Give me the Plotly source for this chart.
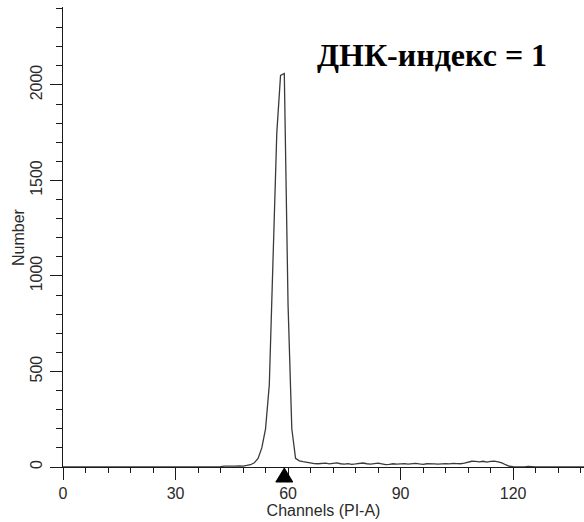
import plotly.graph_objects as go

channels = list(range(0, 140))
counts = [
    0, 0, 0, 0, 0, 0, 0, 0, 0, 0,              # 0-9
    0, 0, 0, 0, 0, 0, 0, 0, 0, 0,              # 10-19
    0, 0, 0, 0, 0, 0, 0, 0, 0, 0,              # 20-29
    0, 0, 0, 0, 0, 0, 0, 1, 0, 1,              # 30-39
    1, 2, 2, 5, 4, 6, 5, 6, 5, 8,              # 40-49
    12, 22, 45, 100, 200, 430, 1080, 1750, 2050, 2060,  # 50-59
    850, 200, 45, 32, 28, 24, 20, 18, 17, 19,  # 60-69
    20, 16, 18, 22, 17, 15, 18, 14, 16, 19,    # 70-79
    21, 17, 15, 18, 20, 16, 12, 14, 17, 15,    # 80-89
    16, 18, 15, 17, 19, 16, 14, 17, 18, 16,    # 90-99
    15, 17, 18, 16, 19, 18, 17, 20, 25, 30,    # 100-109
    29, 27, 30, 26, 29, 31, 27, 22, 12, 4,     # 110-119
    2, 1, 2, 1, 3, 1, 0, 1, 0, 0,              # 120-129
    1, 0, 0, 0, 0, 0, 0, 0, 0, 0,              # 130-139
]
marker_channel = [59]
label_text = "ДНК-индекс = 1"
x_title = "Channels (PI-A)"
y_title = "Number"

axis_col = "#1a1a1a"
font_fam = "Liberation Sans, Arial, sans-serif"

fig = go.Figure()
fig.add_trace(go.Scatter(
    x=channels, y=counts, mode="lines",
    line=dict(color="#3a3a3a", width=1.3),
    showlegend=False, hoverinfo="skip",
))

annotations = [
    dict(
        text="<b>" + label_text + "</b>",
        xref="paper", yref="paper", x=0.709, y=0.895,
        xanchor="center", yanchor="middle", showarrow=False,
        font=dict(family="Liberation Serif, Times New Roman, serif", size=32, color="black"),
    ),
    dict(
        text=y_title, textangle=-90,
        xref="paper", yref="paper", x=-0.0864, y=0.5,
        xanchor="center", yanchor="middle", showarrow=False,
        font=dict(family=font_fam, size=16, color="#2a2a2a"),
    ),
]

# peak-position marker: filled triangle just below the x axis, anchored at the channel
shapes = []
for ch in marker_channel:
    shapes.append(dict(
        type="path", xref="x", yref="paper",
        xsizemode="pixel", ysizemode="pixel", xanchor=ch, yanchor=0,
        path="M-8.5,-15 L8.5,-15 L0,-1 Z",
        fillcolor="black", line=dict(color="black", width=1), layer="above",
    ))

fig.update_layout(
    width=584, height=522,
    margin=dict(l=63, r=0, t=7, b=55),
    paper_bgcolor="white", plot_bgcolor="white",
    font=dict(family=font_fam, size=16, color="#2a2a2a"),
    annotations=annotations,
    shapes=shapes,
)
fig.update_xaxes(
    range=[0, 138.9], showgrid=False, zeroline=False,
    showline=True, linecolor=axis_col, linewidth=1,
    ticks="outside", ticklen=12, tickwidth=1, tickcolor=axis_col,
    tick0=0, dtick=30,
    minor=dict(tick0=0, dtick=6, ticks="outside", ticklen=5, tickwidth=1, tickcolor=axis_col),
    ticklabelstandoff=0,
    title=dict(text=x_title, standoff=2, font=dict(size=16)),
    tickfont=dict(size=16),
)
fig.update_yaxes(
    range=[0, 2408], showgrid=False, zeroline=False,
    showline=True, linecolor=axis_col, linewidth=1,
    ticks="outside", ticklen=12, tickwidth=1, tickcolor=axis_col,
    tick0=0, dtick=500, tickangle=-90,
    minor=dict(tick0=0, dtick=100, ticks="outside", ticklen=6, tickwidth=1, tickcolor=axis_col),
    ticklabelstandoff=2,
    tickfont=dict(size=16),
)

fig.write_html("out.html")
